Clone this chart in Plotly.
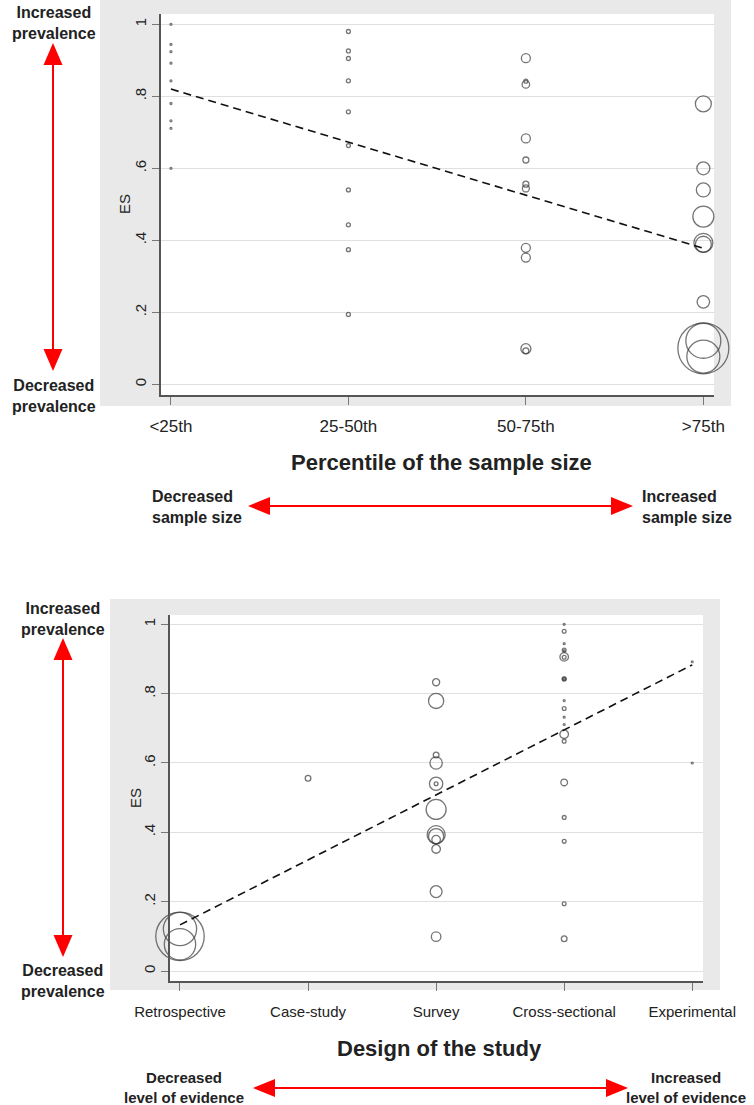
import plotly.graph_objects as go

W, H = 754, 1105

# ---------------- data (one row per study) ----------------
es = [1.000, 0.944, 0.924, 0.892, 0.843, 0.780, 0.732, 0.711, 0.600,
      0.980, 0.926, 0.905, 0.843, 0.757, 0.663, 0.540, 0.443, 0.374, 0.194,
      0.906, 0.842, 0.833, 0.683, 0.623, 0.556, 0.544, 0.379, 0.352, 0.099, 0.093,
      0.779, 0.600, 0.540, 0.466, 0.393, 0.389, 0.229, 0.100, 0.121, 0.077]
pct_group = [1] * 9 + [2] * 10 + [3] * 11 + [4] * 10
design = ["Cross-sectional", "Cross-sectional", "Cross-sectional", "Experimental",
          "Cross-sectional", "Cross-sectional", "Cross-sectional", "Cross-sectional", "Experimental",
          "Cross-sectional", "Cross-sectional", "Cross-sectional", "Cross-sectional", "Cross-sectional",
          "Cross-sectional", "Survey", "Cross-sectional", "Cross-sectional", "Cross-sectional",
          "Cross-sectional", "Cross-sectional", "Survey", "Cross-sectional", "Survey", "Case-study",
          "Cross-sectional", "Survey", "Survey", "Survey", "Cross-sectional",
          "Survey", "Survey", "Survey", "Survey", "Survey", "Survey", "Survey",
          "Retrospective", "Retrospective", "Retrospective"]
weight = [2] * 9 + [4] * 10 + [9, 4, 7.5, 9, 6, 6, 7, 9, 9, 10, 6] + \
         [16, 13, 14, 21, 19, 16, 12.5, 51, 35, 33]

pct_labels = ["<25th", "25-50th", "50-75th", ">75th"]
design_labels = ["Retrospective", "Case-study", "Survey", "Cross-sectional", "Experimental"]

fit_top_x = [1, 4]
fit_top_y = [0.820, 0.378]
fit_bot_x = [1, 5]
fit_bot_y = [0.133, 0.883]

y_tickvals = [0, 0.2, 0.4, 0.6, 0.8, 1]
y_ticktext = ["0", ".2", ".4", ".6", ".8", "1"]

# ---------------- helpers ----------------
def px(x):
    return x / W

def py(y):
    return 1 - y / H

FONT = "Liberation Sans, Arial, Helvetica, sans-serif"
MARK = "#3c3c3c"
RED = "#ff0000"
PANEL = "#e9e9e9"

fig = go.Figure()

# top chart: percentile groups
fig.add_trace(go.Scatter(
    x=pct_group, y=es, mode="markers", xaxis="x", yaxis="y", cliponaxis=False,
    marker=dict(symbol="circle", size=[w * 1.0 for w in weight],
                color="rgba(0,0,0,0)", line=dict(color=MARK, width=1.3)),
    hoverinfo="x+y"))
fig.add_trace(go.Scatter(
    x=fit_top_x, y=fit_top_y, mode="lines", xaxis="x", yaxis="y",
    line=dict(color="#111111", width=1.6, dash="8px,5px")))

# bottom chart: design of study
design_pos = [design_labels.index(d) + 1 for d in design]
fig.add_trace(go.Scatter(
    x=design_pos, y=es, mode="markers", xaxis="x2", yaxis="y2", cliponaxis=False,
    marker=dict(symbol="circle", size=[w * 0.95 for w in weight],
                color="rgba(0,0,0,0)", line=dict(color=MARK, width=1.3)),
    hoverinfo="x+y"))
fig.add_trace(go.Scatter(
    x=fit_bot_x, y=fit_bot_y, mode="lines", xaxis="x2", yaxis="y2",
    line=dict(color="#111111", width=1.6, dash="8px,5px")))

axis_common = dict(showline=True, linecolor="#555555", linewidth=1.5,
                   ticks="outside", tickcolor="#777777", tickwidth=1,
                   zeroline=False, fixedrange=True, automargin=False)

# top panel: plot area 161..714 x 14..395
fig.update_layout(
    xaxis=dict(domain=[px(161), px(714)], range=[0.944, 4.06], anchor="y",
               tickvals=[1, 2, 3, 4], ticktext=pct_labels, ticklen=8,
               showgrid=False, ticklabelstandoff=7,
               tickfont=dict(family=FONT, size=17, color="#222222"), **axis_common),
    yaxis=dict(domain=[py(395), py(14)], range=[-0.0297, 1.0286], anchor="x",
               tickvals=y_tickvals, ticktext=y_ticktext, tickangle=-90, ticklen=7,
               showgrid=True, gridcolor="#e0e0e0", gridwidth=1,
               tickfont=dict(family=FONT, size=15, color="#222222"), **axis_common),
    xaxis2=dict(domain=[px(170), px(703)], range=[0.922, 5.084], anchor="y2",
                tickvals=[1, 2, 3, 4, 5], ticktext=design_labels, ticklen=8,
                showgrid=False, ticklabelstandoff=8,
                tickfont=dict(family=FONT, size=15, color="#222222"), **axis_common),
    yaxis2=dict(domain=[py(981), py(615)], range=[-0.0288, 1.0268], anchor="x2",
                tickvals=y_tickvals, ticktext=y_ticktext, tickangle=-90, ticklen=7,
                showgrid=True, gridcolor="#e0e0e0", gridwidth=1,
                tickfont=dict(family=FONT, size=15, color="#222222"), **axis_common),
)

shapes = []
# grey graph regions + white plot regions
for (gx0, gy0, gx1, gy1), (wx0, wy0, wx1, wy1) in [
        ((100, 0, 731, 406), (161, 14, 714, 395)),
        ((110, 599, 720, 990), (170, 615, 703, 981))]:
    shapes.append(dict(type="rect", xref="paper", yref="paper", layer="below",
                       x0=px(gx0), x1=px(gx1), y0=py(gy1), y1=py(gy0),
                       fillcolor=PANEL, line=dict(width=0)))
    shapes.append(dict(type="rect", xref="paper", yref="paper", layer="below",
                       x0=px(wx0), x1=px(wx1), y0=py(wy1), y1=py(wy0),
                       fillcolor="white", line=dict(width=0)))


def tri(points):
    d = "M " + " L ".join(f"{px(a):.5f},{py(b):.5f}" for a, b in points) + " Z"
    return dict(type="path", xref="paper", yref="paper", path=d,
                fillcolor=RED, line=dict(width=0))


def vert_arrow(x, ytop, ybot, L=22, hw=9.5):
    return [dict(type="line", xref="paper", yref="paper",
                 x0=px(x), x1=px(x), y0=py(ytop + L - 1), y1=py(ybot - L + 1),
                 line=dict(color=RED, width=2)),
            tri([(x, ytop), (x - hw, ytop + L), (x + hw, ytop + L)]),
            tri([(x, ybot), (x - hw, ybot - L), (x + hw, ybot - L)])]


def horiz_arrow(y, xl, xr, L=22, hh=9):
    return [dict(type="line", xref="paper", yref="paper",
                 x0=px(xl + L - 1), x1=px(xr - L + 1), y0=py(y), y1=py(y),
                 line=dict(color=RED, width=2)),
            tri([(xl, y), (xl + L, y - hh), (xl + L, y + hh)]),
            tri([(xr, y), (xr - L, y - hh), (xr - L, y + hh)])]


shapes += vert_arrow(53, 43, 371)
shapes += horiz_arrow(506, 248, 633)
shapes += vert_arrow(63, 638, 957)
shapes += horiz_arrow(1088, 253, 628)

ann = []


def label(text, x, y, size, bold=True, xanchor="center", align="center", angle=0):
    ann.append(dict(text=f"<b>{text}</b>" if bold else text, xref="paper", yref="paper",
                    x=px(x), y=py(y), xanchor=xanchor, yanchor="middle", align=align,
                    showarrow=False, textangle=angle,
                    font=dict(family=FONT, size=size, color="#222222")))


label("Increased<br>prevalence", 54, 23, 16)
label("Decreased<br>prevalence", 54, 396, 16)
label("Decreased<br>sample size", 150, 507, 16, xanchor="left", align="left")
label("Increased<br>sample size", 640, 507, 16, xanchor="left", align="left")
label("Percentile of the sample size", 441, 462, 22)
label("ES", 124, 204, 15, bold=False, angle=-90)

label("Increased<br>prevalence", 63, 619, 16)
label("Decreased<br>prevalence", 63, 981, 16)
label("Decreased<br>level of evidence", 184, 1087, 15)
label("Increased<br>level of evidence", 686, 1087, 15)
label("Design of the study", 439, 1048, 22)
label("ES", 135, 798, 15, bold=False, angle=-90)

fig.update_layout(
    width=W, height=H, margin=dict(l=0, r=0, t=0, b=0, autoexpand=False),
    paper_bgcolor="white", plot_bgcolor="white", showlegend=False,
    shapes=shapes, annotations=ann,
    font=dict(family=FONT, color="#222222"),
)

fig.write_html("out.html")
